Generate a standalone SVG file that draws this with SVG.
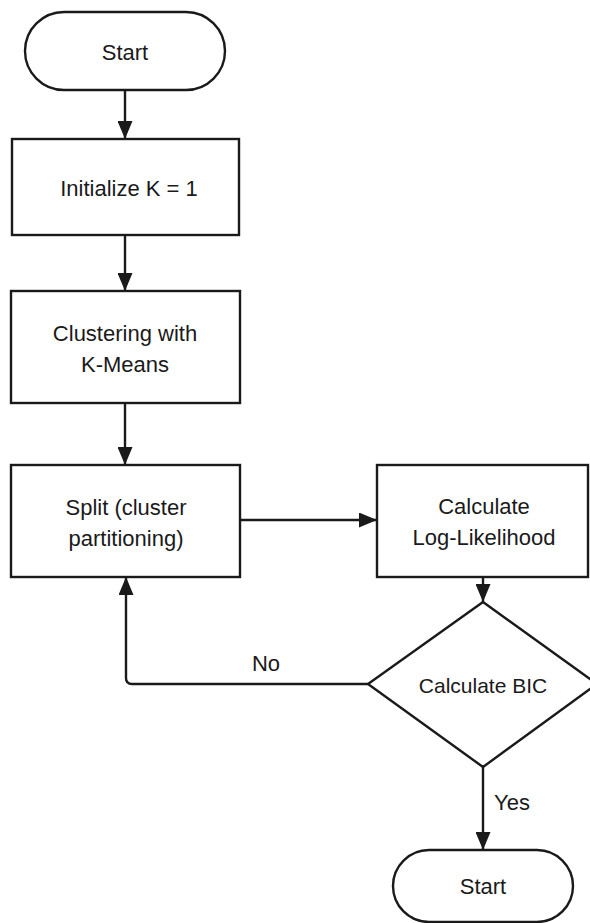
<svg xmlns="http://www.w3.org/2000/svg" width="590" height="923" viewBox="0 0 590 923">
<style>
.shape{fill:#fff;stroke:#1a1a1a;stroke-width:2.4}
.edge{fill:none;stroke:#1a1a1a;stroke-width:2.4}
text{font-family:"Liberation Sans",Arial,sans-serif;font-size:22px;fill:#1a1a1a;text-anchor:middle;dominant-baseline:central}
</style>
<defs>
<marker id="arr" viewBox="0 0 18 15" refX="18" refY="7.5" markerWidth="18" markerHeight="15" markerUnits="userSpaceOnUse" orient="auto">
<path d="M0,0 L18,7.5 L0,15 z" fill="#1a1a1a"/>
</marker>
</defs>
<rect width="590" height="923" fill="#fff"/>
<g id="connectors">
<path class="edge" d="M125,90 V139" marker-end="url(#arr)"/>
<path class="edge" d="M125,235 V291" marker-end="url(#arr)"/>
<path class="edge" d="M125,403 V465" marker-end="url(#arr)"/>
<path class="edge" d="M240,520 H377" marker-end="url(#arr)"/>
<path class="edge" d="M483,577 V602" marker-end="url(#arr)"/>
<path class="edge" d="M368,684 H132 Q126,684 126,678 V577" marker-end="url(#arr)"/>
<path class="edge" d="M483,767 V850" marker-end="url(#arr)"/>
<text x="266" y="663">No</text>
<text x="512" y="802">Yes</text>
</g>
<g id="start">
<rect class="shape" x="25" y="12" width="200" height="78" rx="39" ry="39"/>
<text x="125" y="52">Start</text>
</g>
<g id="init">
<rect class="shape" x="12" y="139" width="227" height="96"/>
<text x="129" y="188">Initialize K = 1</text>
</g>
<g id="kmeans">
<rect class="shape" x="11" y="291" width="229" height="112"/>
<text x="125" y="333">Clustering with</text>
<text x="125" y="364">K-Means</text>
</g>
<g id="split">
<rect class="shape" x="11" y="465" width="229" height="112"/>
<text x="126" y="507">Split (cluster</text>
<text x="126" y="538">partitioning)</text>
</g>
<g id="loglik">
<rect class="shape" x="377" y="465" width="211" height="112"/>
<text x="484" y="506">Calculate</text>
<text x="484" y="537">Log-Likelihood</text>
</g>
<g id="bic">
<polygon class="shape" points="483,602 597,684 483,767 368,684"/>
<text x="483" y="685" style="font-size:21px">Calculate BIC</text>
</g>
<g id="end">
<rect class="shape" x="393" y="850" width="180" height="72" rx="36" ry="36"/>
<text x="483" y="886">Start</text>
</g>
</svg>
